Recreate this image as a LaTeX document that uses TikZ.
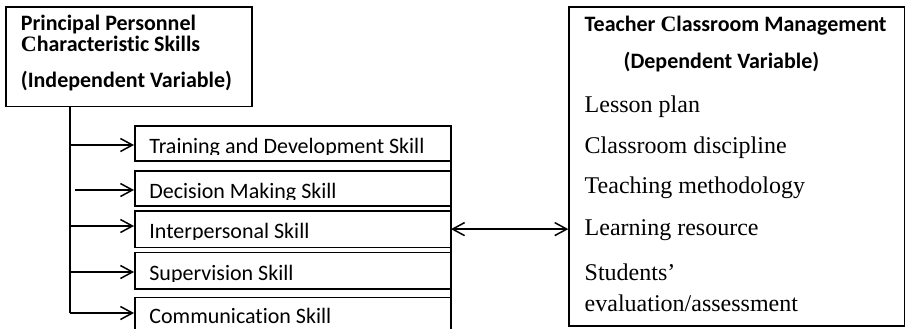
\documentclass[tikz,border=0pt]{standalone}
\usepackage{fontspec}
\setmainfont{Liberation Serif}
\newfontfamily\calib[RawFeature=-liga]{Carlito}
\newfontfamily\serifC{Liberation Serif}
\usetikzlibrary{arrows.meta}

\tikzset{
  box/.style={draw, line width=0.75pt, inner sep=0pt, anchor=north west},
  head/.style={anchor=base west, inner sep=0pt, font=\calib\bfseries\fontsize{11}{13}\selectfont},
  skilltext/.style={anchor=base west, inner sep=0pt, font=\calib\fontsize{11}{13}\selectfont},
  item/.style={anchor=base west, inner sep=0pt, font=\fontsize{12}{14}\selectfont},
  link/.style={line width=0.75pt, -{Straight Barb[length=6pt,width=6.5pt,line width=0.75pt]}},
  twoway/.style={line width=0.75pt, {Straight Barb[length=6pt,width=6.5pt,line width=0.75pt]}-{Straight Barb[length=6pt,width=6.5pt,line width=0.75pt]}},
}
\newcommand{\bigC}{{\serifC\bfseries C}}

\begin{document}
\begin{tikzpicture}[x=0.5pt,y=-0.5pt]
\useasboundingbox (0,0) rectangle (905,328);

% independent variable box
\node[box, minimum width=123pt, minimum height=49.75pt] (iv) at (5,6) {};
\node[head] (iv1) at (20.5,30.7) {Principal Personnel};
\node[head] (iv2) at (20.5,51.7) {\bigC haracteristic Skills};
\node[head] (iv3) at (20.5,87.3) {(Independent Variable)};

% skill boxes
\node[box, minimum width=157.75pt, minimum height=17.5pt] (s1) at (134,125) {};
\node[box, minimum width=157.75pt, minimum height=17.5pt] (s2) at (134,170) {};
\node[box, minimum width=157.75pt, minimum height=18.35pt] (s3) at (134,210) {};
\node[box, minimum width=157.75pt, minimum height=18.3pt] (s4) at (134,251.7) {};
\node[box, minimum width=157.75pt, minimum height=22pt] (s5) at (134,296.7) {};
% continuous right edge of the skill column
\draw[line width=0.75pt] (s1.north east) -- (s5.south east);

% skill labels, cut off just below the baseline
\begin{scope}\clip (134,125) rectangle (449,154);
\node[skilltext] (t1) at (149,153) {Training and Development Skill};\end{scope}
\begin{scope}\clip (134,170) rectangle (449,199);
\node[skilltext] (t2) at (149,198) {Decision Making Skill};\end{scope}
\begin{scope}\clip (134,210) rectangle (449,239);
\node[skilltext] (t3) at (149,238) {Interpersonal Skill};\end{scope}
\begin{scope}\clip (134,252) rectangle (449,281);
\node[skilltext] (t4) at (149,280) {Supervision Skill};\end{scope}
\begin{scope}\clip (134,297) rectangle (449,324);
\node[skilltext] (t5) at (149,323) {Communication Skill};\end{scope}

% branch points on the trunk
\coordinate (j1) at (70,145);
\coordinate (j2) at (75,190);
\coordinate (j3) at (70,226);
\coordinate (j4) at (70,272);
\coordinate (j5) at (70,313);

\draw[line width=0.75pt] (iv.south -| j5) -- (j5);
\draw[link] (j1) -- (j1 -| s1.west);
\draw[link] (j2) -- (j2 -| s2.west);
\draw[link] (j3) -- (j3 -| s3.west);
\draw[link] (j4) -- (j4 -| s4.west);
\draw[link] (j5) -- (j5 -| s5.west);

% dependent variable box
\node[box, minimum width=167.85pt, minimum height=159.5pt] (dv) at (568.3,6) {};
\node[head] (dv1) at (584.3,31.7) {Teacher \bigC lassroom Management};
\node[head] (dv2) at (623.3,68) {(Dependent Variable)};
\node[item] (d1) at (584.3,112.7) {Lesson plan};
\node[item] (d2) at (584.3,153.3) {Classroom discipline};
\node[item] (d3) at (584.3,193.3) {Teaching methodology};
\node[item] (d4) at (584.3,235) {Learning resource};
\node[item] (d5) at (584.3,280) {Students’};
\node[item] (d6) at (584.3,311.7) {evaluation/assessment};

\draw[twoway] (s3.east) -- (s3.east -| dv.west);
\end{tikzpicture}
\end{document}
